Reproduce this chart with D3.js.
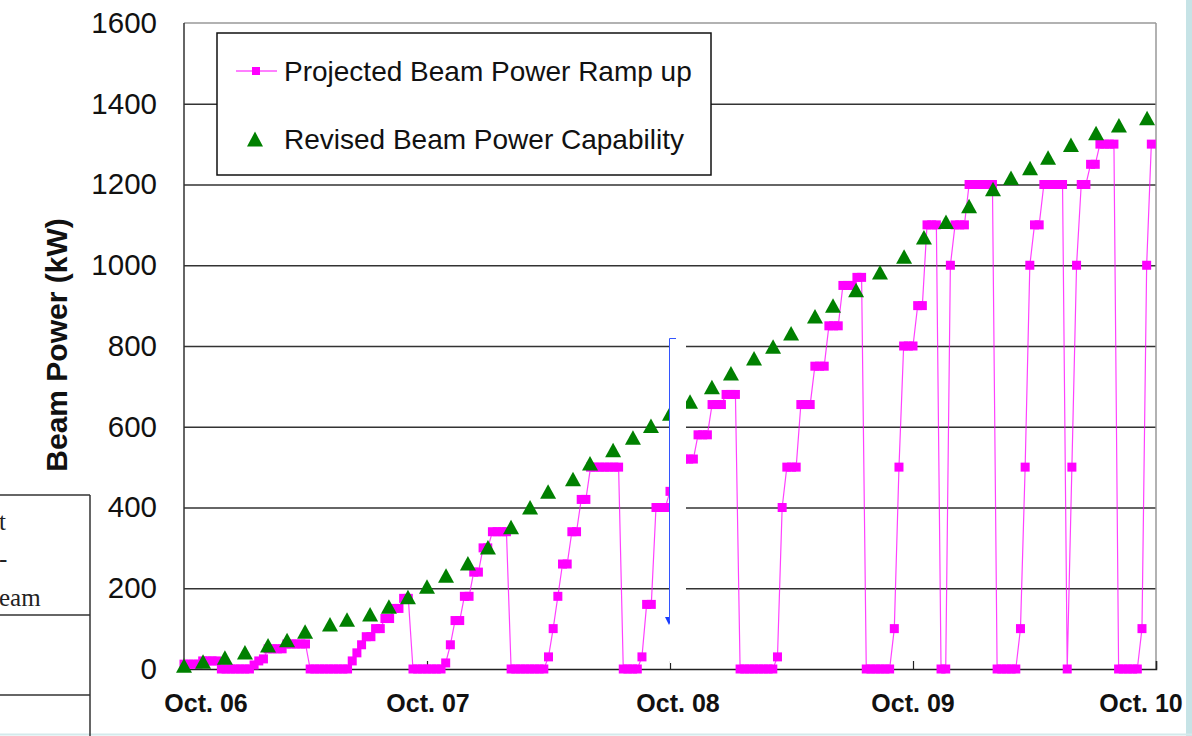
<!DOCTYPE html>
<html>
<head>
<meta charset="utf-8">
<script src="https://cdn.jsdelivr.net/npm/d3@7"></script>
<style>
  body { margin: 0; background: #fff; }
  svg { display: block; }
  text { font-family: "Liberation Sans", Arial, sans-serif; }
</style>
</head>
<body>
<svg id="chart" width="1192" height="736"></svg>
<script>
// weekly projected beam power (kW), week 0 = Oct. 06
var rampWeeks = [
    12, 12, 12, 12, 20, 20, 20, 20,
    0, 0, 0, 0, 0, 0, 0,
    10, 20, 25, 50, 50, 50, 50, 62, 62, 62, 62, 62,
    0, 0, 0, 0, 0, 0, 0, 0, 0,
    20, 40, 60, 80, 80, 100, 100, 125, 125, 150, 150, 175, 175,
    0, 0, 0, 0, 0, 0, 0,
    15, 60, 120, 120, 180, 180, 240, 240, 300, 300, 340, 340, 340, 340,
    0, 0, 0, 0, 0, 0, 0, 0,
    30, 100, 180, 260, 260, 340, 340, 420, 420, 500, 500, 500, 500, 500, 500, 500,
    0, 0, 0, 0,
    30, 160, 160, 400, 400, 400, 440, 460, 480, 520, 520, 520,
    580, 580, 580, 655, 655, 655, 680, 680, 680,
    0, 0, 0, 0, 0, 0, 0, 0,
    30, 400, 500, 500, 500, 655, 655, 655, 750, 750, 750, 850, 850, 850,
    950, 950, 950, 970, 970,
    0, 0, 0, 0, 0, 0,
    100, 500, 800, 800, 800, 900, 900, 1100, 1100, 1100,
    0, 0,
    1000, 1100, 1100, 1100, 1200, 1200, 1200, 1200, 1200, 1200,
    0, 0, 0, 0, 0,
    100, 500, 1000, 1100, 1100, 1200, 1200, 1200, 1200, 1200,
    0,
    500, 1000, 1200, 1200, 1250, 1250, 1300, 1300, 1300, 1300,
    0, 0, 0, 0, 0,
    100, 1000, 1300
];

// revised capability: month since Oct. 06 and kW
var capMonths = [0, 0.94, 2.02, 3.01, 4.15, 5.09, 5.98, 7.21, 8.05, 9.19,
    10.12, 11.06, 12.0, 12.94, 14.02, 15.01, 16.15, 17.09, 17.98, 19.21,
    20.05, 21.19, 22.17, 23.06, 24.0, 24.99, 26.07, 27.01, 28.15, 29.09,
    29.98, 31.16, 32.05, 33.19, 34.37, 35.56, 36.54, 37.63, 38.77, 39.95,
    40.84, 41.78, 42.67, 43.8, 45.04, 46.17, 47.56];
var capValues = [8, 18, 28, 41, 58, 71, 92, 110, 122, 135,
    154, 178, 204, 231, 261, 301, 351, 400, 439, 470,
    509, 542, 573, 602, 632, 662, 698, 732, 769, 798,
    831, 873, 900, 938, 982, 1021, 1069, 1107, 1146, 1188,
    1216, 1240, 1266, 1298, 1327, 1346, 1364];

var yTicks = [0, 200, 400, 600, 800, 1000, 1200, 1400, 1600];
var xTickYears = [0, 1, 2, 3, 4];
var xTickLabels = ['Oct. 06', 'Oct. 07', 'Oct. 08', 'Oct. 09', 'Oct. 10'];
var seriesNames = ['Projected Beam Power Ramp up', 'Revised Beam Power Capability'];
var tableWords = ['t', '-', 'eam'];

var svg = d3.select('#chart');
var plotLeft = 184, plotRight = 1156, plotTop = 23, plotBottom = 669;
var weeksPerYear = 52;

var x = d3.scaleLinear().domain([0, 4]).range([plotLeft, plotRight]);
var y = d3.scaleLinear().domain([0, 1600]).range([plotBottom, plotTop]);

var magenta = '#ff00ff';
var green = '#008000';

svg.append('rect').attr('width', 1192).attr('height', 736).attr('fill', '#fff');

// light frame at the far right / bottom of the slide
svg.append('rect').attr('x', 1186).attr('y', 0).attr('width', 6).attr('height', 736).attr('fill', '#c6e3e6');
svg.append('line').attr('x1', 0).attr('x2', 1192).attr('y1', 734.5).attr('y2', 734.5)
    .attr('stroke', '#d3eaec').attr('stroke-width', 2);

// part of a table on the left
var tbl = svg.append('g').attr('stroke', '#333').attr('stroke-width', 1.5);
[495, 615, 695].forEach(function(ty) {
    tbl.append('line').attr('x1', 0).attr('x2', 90).attr('y1', ty).attr('y2', ty);
});
tbl.append('line').attr('x1', 90).attr('x2', 90).attr('y1', 495).attr('y2', 736);
svg.selectAll('.tword').data(tableWords).enter().append('text')
    .attr('class', 'tword')
    .attr('x', -1)
    .attr('y', function(d, i) { return [530, 567, 606][i]; })
    .style('font-family', '"Liberation Serif", "Times New Roman", serif')
    .style('font-size', '25px')
    .attr('fill', '#222')
    .text(function(d) { return d; });

// grid
svg.append('g')
    .attr('transform', 'translate(' + plotLeft + ',0)')
    .call(d3.axisLeft(y).tickValues(yTicks.slice(1, -1)).tickSize(-(plotRight - plotLeft)).tickFormat(''))
    .call(function(g) { g.select('.domain').remove(); })
    .selectAll('line').attr('stroke', '#333').attr('stroke-width', 1.5);

// plot frame
svg.append('line').attr('x1', plotLeft).attr('x2', plotRight).attr('y1', plotTop).attr('y2', plotTop)
    .attr('stroke', '#999').attr('stroke-width', 1.5);
svg.append('line').attr('x1', plotRight).attr('x2', plotRight).attr('y1', plotTop).attr('y2', plotBottom)
    .attr('stroke', '#999').attr('stroke-width', 1.5);
svg.append('line').attr('x1', plotLeft).attr('x2', plotLeft).attr('y1', plotTop).attr('y2', plotBottom)
    .attr('stroke', '#333').attr('stroke-width', 1.5);

// y tick labels
var yAxis = svg.append('g')
    .attr('transform', 'translate(' + plotLeft + ',0)')
    .call(d3.axisLeft(y).tickValues(yTicks).tickSize(0).tickPadding(27).tickFormat(d3.format('d')));
yAxis.select('.domain').remove();
yAxis.selectAll('text')
    .style('font-family', '"Liberation Sans", Arial, sans-serif')
    .style('font-size', '29.5px')
    .attr('fill', '#111');

// x axis
var xAxis = svg.append('g')
    .attr('transform', 'translate(0,' + plotBottom + ')')
    .call(d3.axisBottom(x).tickValues(xTickYears).tickSize(-8).tickFormat(''));
xAxis.select('.domain').attr('stroke', '#222').attr('stroke-width', 1.5);
xAxis.selectAll('line').attr('stroke', '#222').attr('stroke-width', 1.2);

var labelNudge = [22, 1, 8, 0, -15];
svg.selectAll('.xlabel').data(xTickLabels).enter().append('text')
    .attr('class', 'xlabel')
    .attr('x', function(d, i) { return x(xTickYears[i]) + labelNudge[i]; })
    .attr('y', 712)
    .attr('text-anchor', 'middle')
    .style('font-size', '25px')
    .style('font-weight', 'bold')
    .attr('fill', '#111')
    .text(function(d) { return d; });

// y title
svg.append('text')
    .attr('transform', 'translate(67,345) rotate(-90)')
    .attr('text-anchor', 'middle')
    .style('font-size', '30px')
    .style('font-weight', 'bold')
    .attr('fill', '#111')
    .text('Beam Power (kW)');

// projected ramp up
var ramp = rampWeeks.map(function(v, i) { return { t: i / weeksPerYear, v: v }; });

svg.append('path')
    .datum(ramp)
    .attr('fill', 'none')
    .attr('stroke', magenta)
    .attr('stroke-opacity', 0.75)
    .attr('stroke-width', 1.2)
    .attr('d', d3.line().x(function(d) { return x(d.t); }).y(function(d) { return y(d.v); }));

svg.selectAll('.sq').data(ramp).enter().append('rect')
    .attr('class', 'sq')
    .attr('x', function(d) { return x(d.t) - 4.5; })
    .attr('y', function(d) { return y(d.v) - 4.5; })
    .attr('width', 9)
    .attr('height', 9)
    .attr('fill', magenta);

// revised capability
var tri = 'M0,-7.5L8,7L-8,7Z';
var cap = capMonths.map(function(m, i) { return { t: m / 12, v: capValues[i] }; });

svg.selectAll('.tri').data(cap).enter().append('path')
    .attr('class', 'tri')
    .attr('d', tri)
    .attr('transform', function(d) { return 'translate(' + x(d.t) + ',' + y(d.v) + ')'; })
    .attr('fill', green);

// the pasted white strip with its blue edge
svg.append('path').attr('d', 'M665,617L673,617L669,625Z').attr('fill', '#1a3cff');
svg.append('rect').attr('x', 670).attr('y', 338).attr('width', 16).attr('height', 325).attr('fill', '#fff');
svg.append('path').attr('d', 'M676,338.5L669.5,338.5L669.5,621')
    .attr('fill', 'none').attr('stroke', '#3355ff').attr('stroke-width', 1);

// legend
var legend = svg.append('g');
legend.append('rect')
    .attr('x', 217).attr('y', 33).attr('width', 494).attr('height', 142)
    .attr('fill', '#fff').attr('stroke', '#111').attr('stroke-width', 1.5);
legend.append('line')
    .attr('x1', 236).attr('x2', 277).attr('y1', 71).attr('y2', 71)
    .attr('stroke', magenta).attr('stroke-width', 1.2);
legend.append('rect')
    .attr('x', 252).attr('y', 67).attr('width', 8).attr('height', 8).attr('fill', magenta);
legend.append('path')
    .attr('d', 'M0,-7.5L8,7.5L-8,7.5Z')
    .attr('transform', 'translate(255,139)')
    .attr('fill', green);
legend.selectAll('.ltext').data(seriesNames).enter().append('text')
    .attr('class', 'ltext')
    .attr('x', 284)
    .attr('y', function(d, i) { return i === 0 ? 71 : 139; })
    .attr('dy', '0.35em')
    .style('font-size', '28px')
    .attr('fill', '#111')
    .text(function(d) { return d; });
</script>
</body>
</html>
